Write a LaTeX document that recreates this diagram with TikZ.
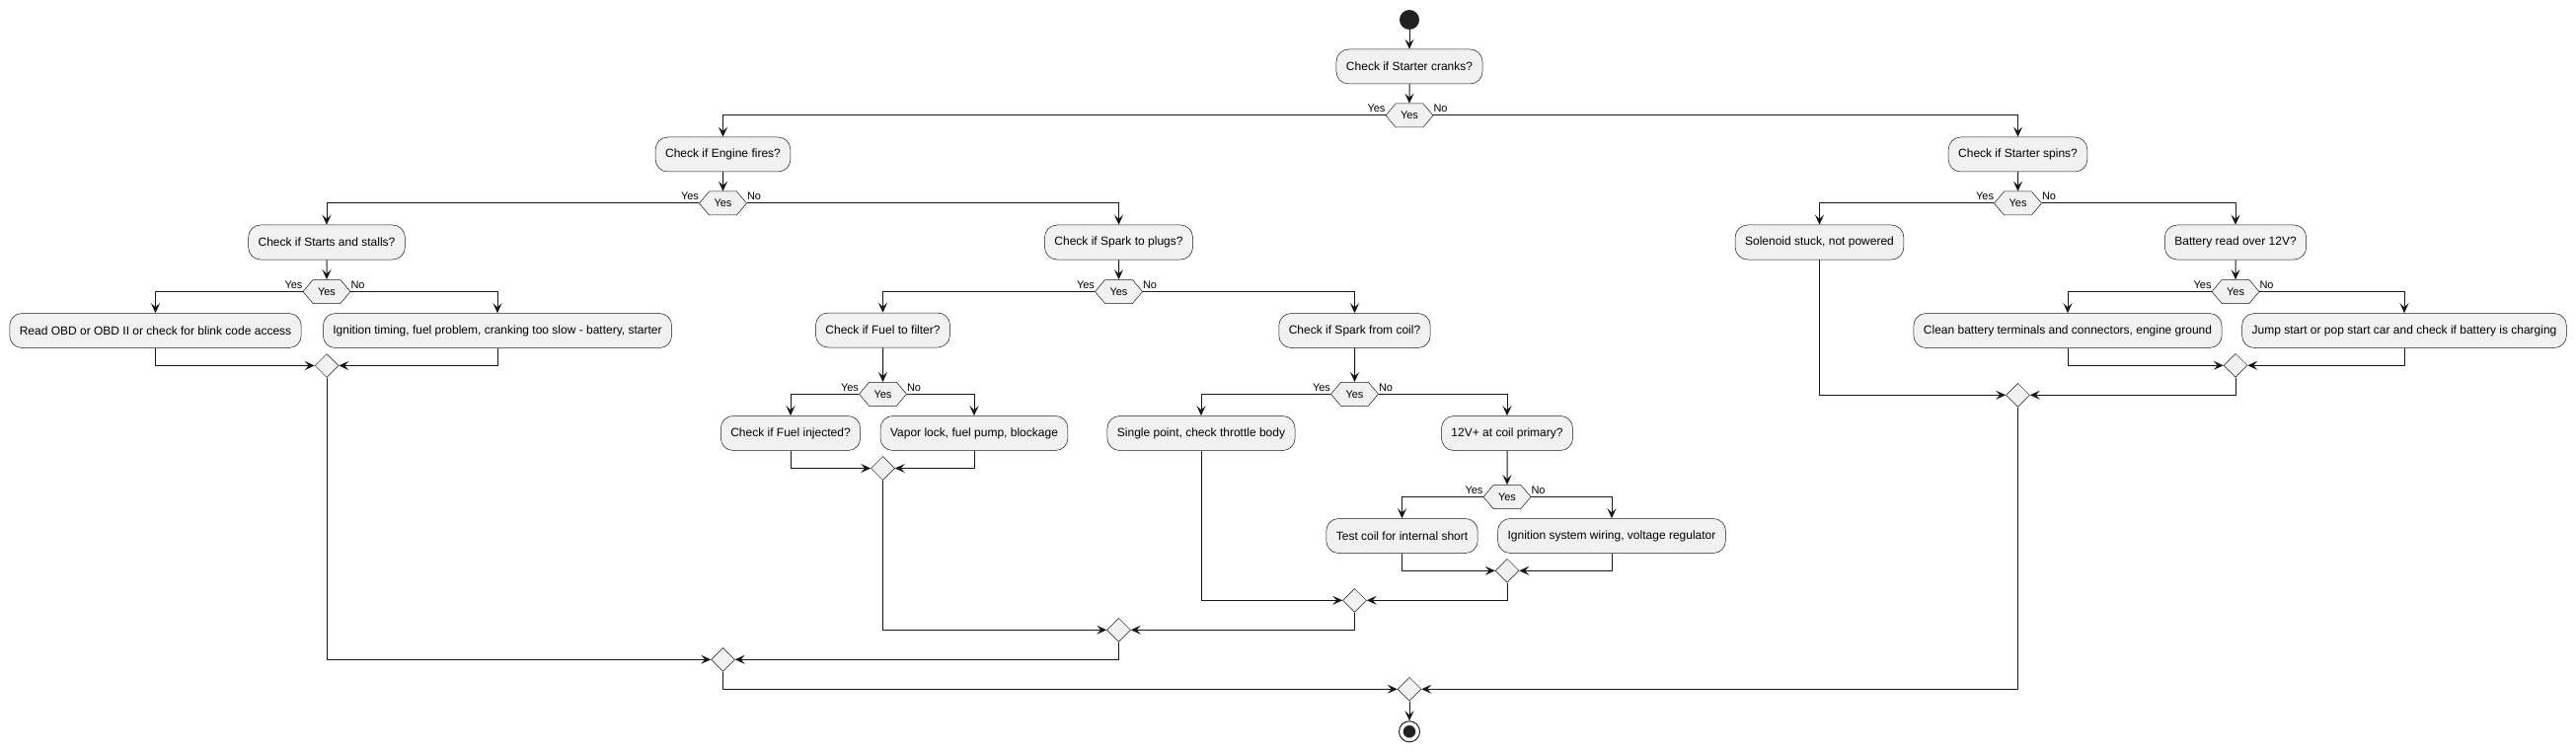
\documentclass[tikz,border=0pt]{standalone}
\usepackage{fontspec}
\setmainfont{Liberation Sans}
\usetikzlibrary{shapes.geometric,shapes.symbols,arrows.meta}
\definecolor{cline}{HTML}{181818}
\definecolor{cfill}{HTML}{F1F1F1}
\definecolor{cdot}{HTML}{222222}
\begin{document}
\begin{tikzpicture}[x=1pt,y=-1pt,
  actbox/.style={draw=cline, fill=cfill, rounded corners=12.5pt, line width=0.5pt,
    inner xsep=10pt, inner ysep=0pt, minimum height=35pt, font=\fontsize{12}{14}\selectfont},
  hexa/.style={shape=signal, signal to=east and west, signal pointer angle=100,
    draw=cline, fill=cfill, line width=0.5pt, minimum width=48pt, minimum height=24pt,
    inner sep=0pt, font=\fontsize{11}{13}\selectfont},
  merge/.style={shape=diamond, draw=cline, fill=cfill, line width=0.5pt,
    minimum width=24pt, minimum height=24pt, inner sep=0pt},
  startnode/.style={circle, fill=cdot, minimum size=20pt, inner sep=0pt},
  endnode/.style={circle, draw=cdot, line width=1pt, fill=white, minimum size=21pt, inner sep=0pt},
  arr/.style={draw=cline, line width=1pt, -{Stealth[length=10pt,width=9pt,inset=4pt]}},
  lbl/.style={font=\fontsize{11}{13}\selectfont, inner sep=0pt}
]
\useasboundingbox[fill=white] (0,0) rectangle (2610,762);

% top
\node[startnode] (start) at (1428,20) {};
\node[actbox] (cranks) at (1428,67.5) {Check if Starter cranks?};
\node[hexa] (h1) at (1428,117) {Yes};

% engine branch
\node[actbox] (engine) at (732.5,156.5) {Check if Engine fires?};
\node[hexa] (h2) at (732.5,206) {Yes};
\node[actbox] (stalls) at (331,245.5) {Check if Starts and stalls?};
\node[hexa] (h3) at (331,295.5) {Yes};
\node[actbox] (obd) at (157.5,335) {Read OBD or OBD II or check for blink code access};
\node[actbox] (timing) at (504,335) {Ignition timing, fuel problem, cranking too slow - battery, starter};
\node[merge] (m3) at (331,370.5) {};

\node[actbox] (plugs) at (1133.5,245.5) {Check if Spark to plugs?};
\node[hexa] (h4) at (1133.5,295.5) {Yes};
\node[actbox] (filter) at (894.5,334.5) {Check if Fuel to filter?};
\node[hexa] (h5) at (894.5,399.3) {Yes};
\node[actbox] (injected) at (801,439) {Check if Fuel injected?};
\node[actbox] (vapor) at (987,439) {Vapor lock, fuel pump, blockage};
\node[merge] (m5) at (894.5,474.5) {};

\node[actbox] (coil) at (1372.5,335) {Check if Spark from coil?};
\node[hexa] (h6) at (1372.5,399.3) {Yes};
\node[actbox] (single) at (1217,439) {Single point, check throttle body};
\node[actbox] (primary) at (1527,439) {12V+ at coil primary?};
\node[hexa] (h7) at (1527,503.5) {Yes};
\node[actbox] (short) at (1420.5,543) {Test coil for internal short};
\node[actbox] (wiring) at (1633,543) {Ignition system wiring, voltage regulator};
\node[merge] (m7) at (1527,578.3) {};
\node[merge] (m6) at (1372.5,608.3) {};
\node[merge] (m4) at (1133.5,638.3) {};
\node[merge] (m2) at (732.5,668.3) {};

% starter spins branch
\node[actbox] (spins) at (2044.5,156.5) {Check if Starter spins?};
\node[hexa] (h8) at (2044.5,206) {Yes};
\node[actbox] (solenoid) at (1843.5,245.5) {Solenoid stuck, not powered};
\node[actbox] (battery) at (2265,245.5) {Battery read over 12V?};
\node[hexa] (h9) at (2265,295.5) {Yes};
\node[actbox] (clean) at (2095,335) {Clean battery terminals and connectors, engine ground};
\node[actbox] (jump) at (2436,335) {Jump start or pop start car and check if battery is charging};
\node[merge] (m9) at (2265,370.3) {};
\node[merge] (m8) at (2044.5,400.3) {};

% final
\node[merge] (m1) at (1428,698.3) {};
\node[endnode] (stop) at (1428,741.3) {};
\fill[cdot] (stop.center) circle (6.3pt);

% vertical arrows
\draw[arr] (start) -- (cranks);
\draw[arr] (cranks) -- (h1);
\draw[arr] (engine) -- (h2);
\draw[arr] (stalls) -- (h3);
\draw[arr] (plugs) -- (h4);
\draw[arr] (filter) -- (h5);
\draw[arr] (coil) -- (h6);
\draw[arr] (primary) -- (h7);
\draw[arr] (spins) -- (h8);
\draw[arr] (battery) -- (h9);
\draw[arr] (m1) -- (stop);

% branches
\foreach \h/\l/\r in {h1/engine/spins, h2/stalls/plugs, h3/obd/timing, h4/filter/coil,
  h5/injected/vapor, h6/single/primary, h7/short/wiring, h8/solenoid/battery, h9/clean/jump}{
  \draw[arr] (\h.west) -| (\l.north);
  \draw[arr] (\h.east) -| (\r.north);
  \node[lbl, anchor=base east] at ([yshift=3pt]\h.west) {Yes};
  \node[lbl, anchor=base west] at ([yshift=3pt]\h.east) {No};
}

% merges
\foreach \m/\l/\r in {m3/obd/timing, m5/injected/vapor, m7/short/wiring, m6/single/m7,
  m4/m5/m6, m2/m3/m4, m9/clean/jump, m8/solenoid/m9, m1/m2/m8}{
  \draw[arr] (\l.south) |- (\m.west);
  \draw[arr] (\r.south) |- (\m.east);
}
\end{tikzpicture}
\end{document}
